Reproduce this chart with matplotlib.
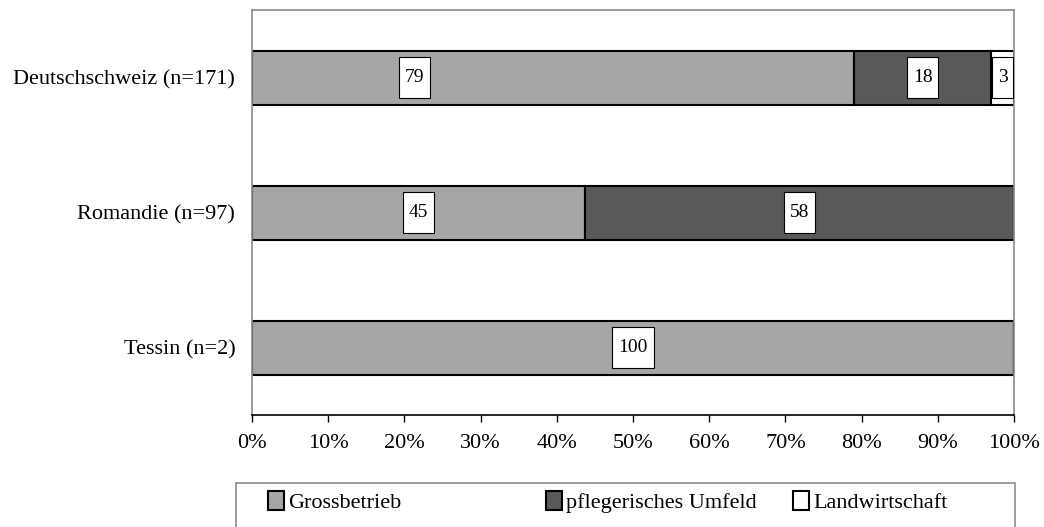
import matplotlib
matplotlib.use("Agg")
import matplotlib.pyplot as plt
from matplotlib.patches import Rectangle
import numpy as np

plt.rcParams['font.family'] = ['Liberation Serif', 'DejaVu Serif']

categories = ["Deutschschweiz (n=171)", "Romandie (n=97)", "Tessin (n=2)"]
series = ["Grossbetrieb", "pflegerisches Umfeld", "Landwirtschaft"]
grossbetrieb = [79, 45, 100]
pflegerisch = [18, 58, 0]
landwirtschaft = [3, 0, 0]
colors = ["#A6A6A6", "#595959", "#FFFFFF"]
xticks = [0, 10, 20, 30, 40, 50, 60, 70, 80, 90, 100]

fig = plt.figure(figsize=(10.44, 5.27), dpi=100)
ax = fig.add_axes([252/1044, 1-415/527, (1014-252)/1044, (415-10)/527])

vals = np.array([grossbetrieb, pflegerisch, landwirtschaft], dtype=float)
totals = vals.sum(axis=0)
pct = vals / totals * 100
ypos = np.arange(len(categories))
left = np.zeros(len(categories))
handles = []
for i, name in enumerate(series):
    bars = ax.barh(ypos, pct[i], left=left, height=0.4, color=colors[i],
                   edgecolor="black", linewidth=1.5, label=name)
    handles.append(bars)
    for j in range(len(categories)):
        if vals[i, j] > 0:
            cx = left[j] + pct[i, j] / 2
            if i == 0 and j == 0:
                cx = left[j] + pct[i, j] * 0.27
            ax.text(cx, ypos[j], f"{int(vals[i, j])}", ha="center", va="center",
                    fontsize=14,
                    bbox=dict(boxstyle="square,pad=0.3", mutation_aspect=2.1,
                              facecolor="white", edgecolor="black", linewidth=0.8))
    left += pct[i]

ax.set_xlim(0, 100)
ax.set_ylim(2.5, -0.5)
ax.set_yticks(ypos)
ax.set_yticklabels(categories, fontsize=16)
ax.set_xticks(xticks)
ax.set_xticklabels([f"{t}%" for t in xticks], fontsize=16)
ax.tick_params(axis="y", length=0, pad=12)
ax.tick_params(axis="x", direction="out", length=5, width=1, pad=9)
for s in ["top", "left", "right"]:
    ax.spines[s].set_color("#8C8C8C")
    ax.spines[s].set_linewidth(1.2)
ax.spines["bottom"].set_color("black")
ax.spines["bottom"].set_linewidth(1.2)

# legend frame
fig.patches.append(Rectangle((236/1044, -0.1), (1015-236)/1044, 0.1 + (527-483)/527,
                             transform=fig.transFigure, facecolor="white",
                             edgecolor="#8C8C8C", linewidth=1.2))
starts = [268, 546, 793]
for h, x0 in zip(handles, starts):
    fig.legend([h], [h.get_label()], loc="center left",
               bbox_to_anchor=(x0/1044, 1-502/527), frameon=False, fontsize=16,
               handlelength=0.7, handleheight=0.9, handletextpad=0.2,
               borderpad=0, borderaxespad=0)

fig.savefig("out.png", dpi=100)
